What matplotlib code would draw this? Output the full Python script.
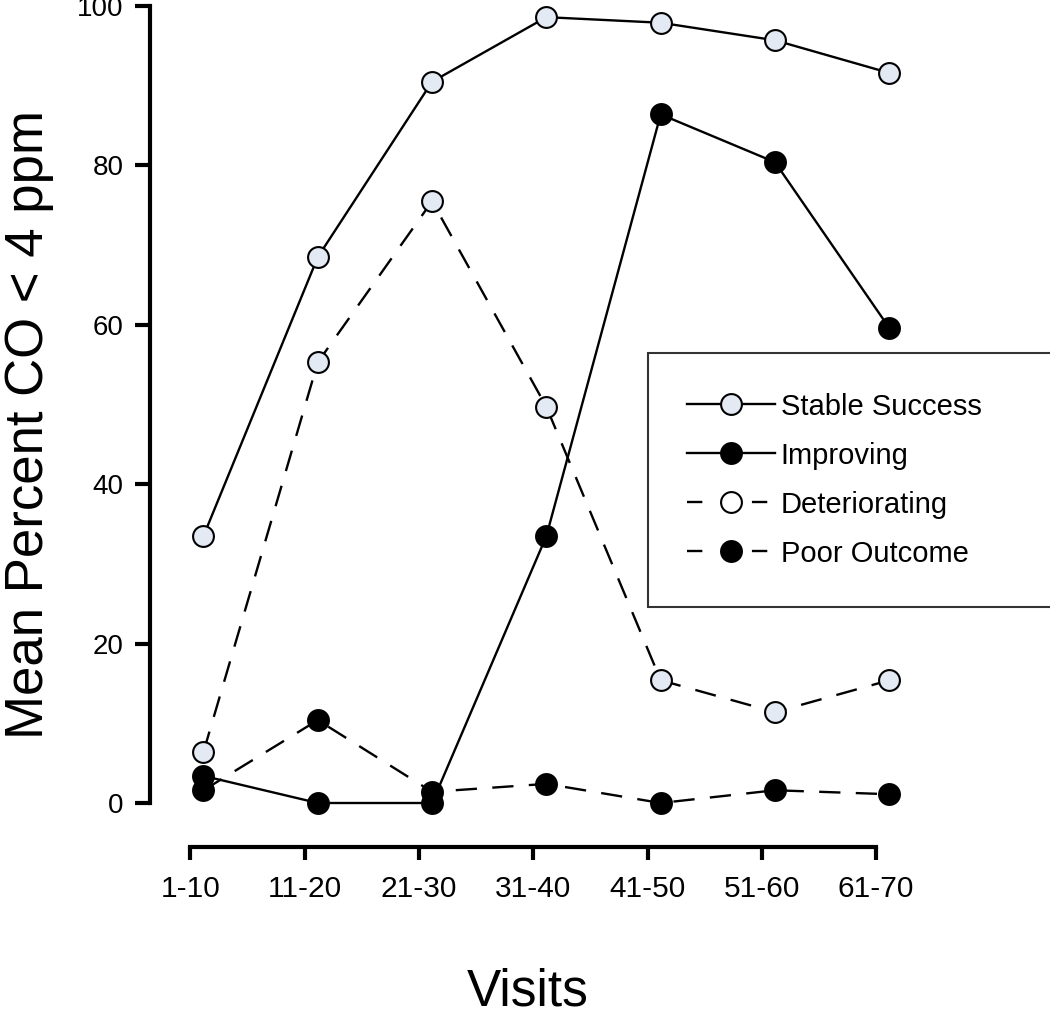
import matplotlib
matplotlib.use("Agg")
import matplotlib.pyplot as plt
from matplotlib.lines import Line2D

plt.rcParams['font.family'] = ['Liberation Sans', 'DejaVu Sans']

visits = ['1-10', '11-20', '21-30', '31-40', '41-50', '51-60', '61-70']
stable_success = [33.5, 68.5, 90.5, 98.6, 97.9, 95.7, 91.6]
improving = [3.4, 0.0, 0.0, 33.5, 86.4, 80.4, 59.6]
deteriorating = [6.4, 55.3, 75.5, 49.7, 15.4, 11.4, 15.4]
poor_outcome = [1.6, 10.4, 1.4, 2.4, 0.0, 1.6, 1.1]

light = '#e3eaf4'
dash = (9, 6.5)

fig = plt.figure(figsize=(10.5, 10.16), dpi=100)
ax = fig.add_axes([150 / 1050, 213 / 1016, 900 / 1050, 797 / 1016])

x = list(range(len(visits)))
common = dict(lw=1.7, ms=15, mew=1.5, mec='black', clip_on=False, zorder=3)
ax.plot(x, stable_success, '-o', color='black', mfc=light, **common)
ax.plot(x, improving, '-o', color='black', mfc='black', **common)
ax.plot(x, deteriorating, '--o', color='black', mfc=light, dashes=dash, **common)
ax.plot(x, poor_outcome, '--o', color='black', mfc='black', dashes=dash, **common)

ax.set_xlim(-0.468, 7.406)
ax.set_ylim(0, 100)

for s in ['top', 'right']:
    ax.spines[s].set_visible(False)
ax.spines['left'].set_linewidth(3)
ax.spines['left'].set_bounds(0, 100)
ax.spines['bottom'].set_linewidth(3)
ax.spines['bottom'].set_position(('outward', 32))

# x ticks sit a little left of the data points, as in the original
off = 0.115
ax.set_xticks([i - off for i in x])
ax.set_xticklabels(visits)
ax.spines['bottom'].set_bounds(-off, x[-1] - off)
ax.set_yticks([0, 20, 40, 60, 80, 100])

ax.tick_params(axis='both', width=3, direction='out')
ax.tick_params(axis='x', length=9.5, pad=10, labelsize=21.5)
ax.tick_params(axis='y', length=11, pad=8, labelsize=20)

fig.text(29 / 1050, 1 - 425 / 1016, 'Mean Percent CO < 4 ppm', rotation=90,
         ha='center', va='center', fontsize=38)
fig.text(528 / 1050, 1 - 992 / 1016, 'Visits', ha='center', va='center', fontsize=37)

leg_ls = (0, (6.5, 21))
handles = [
    Line2D([], [], color='black', lw=1.7, marker='o', ms=15, mew=1.5, mfc=light, mec='black'),
    Line2D([], [], color='black', lw=1.7, marker='o', ms=15, mew=1.5, mfc='black', mec='black'),
    Line2D([], [], color='black', lw=1.7, ls=leg_ls, marker='o', ms=15, mew=1.5, mfc='white', mec='black'),
    Line2D([], [], color='black', lw=1.7, ls=leg_ls, marker='o', ms=15, mew=1.5, mfc='black', mec='black'),
]
labels = ['Stable Success', 'Improving', 'Deteriorating', 'Poor Outcome']
leg = fig.legend(handles, labels, loc='lower left',
                 bbox_to_anchor=(648 / 1050, 1 - 607 / 1016, 0.45, 255 / 1016),
                 mode='expand', fontsize=21, handlelength=3.0, handletextpad=0.2,
                 labelspacing=0.72, borderpad=1.35, borderaxespad=0, frameon=True,
                 fancybox=False, edgecolor='black')
leg.get_frame().set_linewidth(1.5)

fig.savefig('out.png', dpi=100)
